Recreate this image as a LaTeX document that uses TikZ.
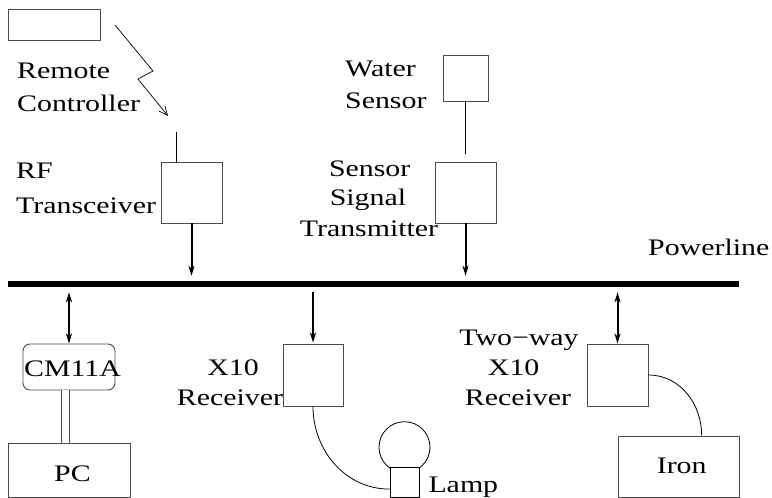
\documentclass[tikz,border=0pt]{standalone}
\usepackage{fontspec}
\setmainfont{Liberation Serif}[FakeStretch=1.26]
\usetikzlibrary{arrows.meta,calc}
\begin{document}
\begin{tikzpicture}[x=1pt,y=-1pt,
  box/.style={draw=black!70,line width=0.9pt,fill=white,inner sep=0pt},
  lbl/.style={inner sep=0pt,font=\fontsize{23.7}{28}\selectfont},
  wire/.style={draw=black,line width=0.8pt},
  bus/.style={line width=2pt,-{Stealth[length=10pt,width=6pt,inset=3pt]}},
  bibus/.style={line width=2pt,{Stealth[length=10pt,width=6pt,inset=3pt]}-{Stealth[length=10pt,width=6pt,inset=3pt]}},
  radio/.style={line width=0.7pt,-{Straight Barb[length=9pt,width=8pt]}}]
\useasboundingbox (0,0) rectangle (772,498);
% boxes
\node[box,minimum width=92pt,minimum height=31pt] (remote) at (54,24.5) {};
\node[box,minimum width=61pt,minimum height=61pt] (rf) at (191.5,192.5) {};
\node[box,minimum width=45pt,minimum height=46pt] (water) at (465.5,78) {};
\node[box,minimum width=61pt,minimum height=61pt] (sst) at (465.5,192.5) {};
\node[box,rounded corners=7pt,minimum width=92pt,minimum height=46pt] (cm) at (69,367) {};
\node[box,minimum width=122pt,minimum height=54pt] (pc) at (69,470) {};
\node[box,minimum width=60pt,minimum height=62pt] (x10) at (313,375) {};
\node[box,minimum width=61pt,minimum height=62pt] (tw) at (617.5,375) {};
\node[box,minimum width=121pt,minimum height=61pt] (iron) at (678.5,466.5) {};
% lamp
\node[draw=black,line width=0.8pt,circle,minimum size=51pt,inner sep=0pt] (bulb) at (404.5,447.2) {};
\node[box,draw=black,minimum width=29pt,minimum height=30pt] (lb) at (404.5,482) {};
% powerline
\node[fill=black,inner sep=0pt,minimum width=731pt,minimum height=6pt] (pl) at (373.5,284) {};
% top connections
\coordinate (ant) at (176,132);
\draw[wire] (ant) -- (ant |- rf.north);
\coordinate (wend) at (465.7,154);
\draw[wire] (water.south -| wend) -- (wend);
\coordinate (l1) at (115,25);
\coordinate (l2) at (153,71);
\coordinate (l3) at (138,79);
\coordinate (l4) at (168,116);
\draw[radio] (l1) -- (l2) -- (l3) -- (l4);
\draw[bus,shorten >=5pt] (rf.south) -- (rf.south |- pl.north);
\draw[bus,shorten >=5pt] (sst.south) -- (sst.south |- pl.north);
% bottom connections
\draw[bibus,shorten <=5pt] (cm.north |- pl.south) -- (cm.north);
\draw[bus,shorten <=5pt,shorten >=1pt] (x10.north |- pl.south) -- (x10.north);
\draw[bibus,shorten <=5pt] (tw.north |- pl.south) -- (tw.north);
\draw[draw=black!70,line width=0.8pt,double,double distance=6.8pt] ([xshift=-3.6pt]cm.south) -- ([xshift=-3.6pt]cm.south |- pc.north);
\coordinate (lin) at ($(lb.south west)!0.27!(lb.north west)$);
\draw[wire] (x10.south) to[out=-90,in=180,looseness=1] (lin);
\coordinate (iin) at (701.7,0);
\draw[wire] (tw.east) to[out=0,in=90,looseness=1] (iin |- iron.north);
% labels
\node[lbl,anchor=base west] (t1) at (17,78) {Remote};
\node[lbl,anchor=base west] (t2) at (17,111.5) {Controller};
\node[lbl,anchor=base west] (t3) at (16,178) {RF};
\node[lbl,anchor=base west] (t4) at (16,213) {Transceiver};
\node[lbl,anchor=base west] (t5) at (345,76.7) {Water};
\node[lbl,anchor=base west] (t6) at (345,108.3) {Sensor};
\node[lbl,anchor=base] (t7) at (369.7,176.7) {Sensor};
\node[lbl,anchor=base] (t8) at (368,205) {Signal};
\node[lbl,anchor=base] (t9) at (369,236.7) {Transmitter};
\node[lbl,anchor=base west] (t10) at (648,255) {Powerline};
\node[lbl,anchor=base west] (t11) at (24,376) {CM11A};
\node[lbl,anchor=base] (t12) at (72.5,481.7) {PC};
\node[lbl,anchor=base] (t13) at (233,375) {X10};
\node[lbl,anchor=base] (t14) at (230,405) {Receiver};
\node[lbl,anchor=base] (t15) at (519,345) {Two−way};
\node[lbl,anchor=base] (t16) at (513.7,375) {X10};
\node[lbl,anchor=base] (t17) at (518,405) {Receiver};
\node[lbl,anchor=base] (t18) at (681.7,473.3) {Iron};
\node[lbl,anchor=base west] (t19) at (428.3,492.3) {Lamp};
\end{tikzpicture}
\end{document}
